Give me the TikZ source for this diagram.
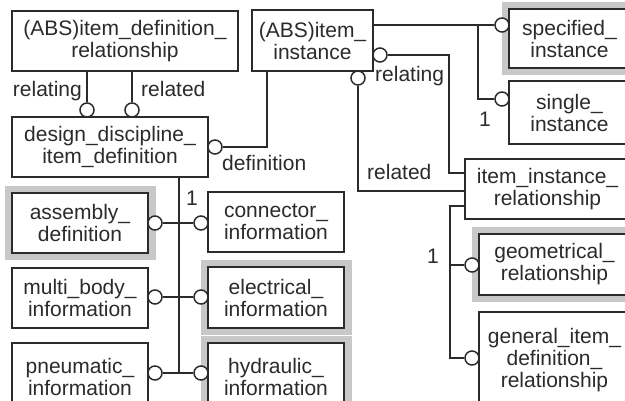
\documentclass[tikz,border=0pt]{standalone}
\usepackage{fontspec}
\setmainfont{Liberation Sans}
\usetikzlibrary{backgrounds}
\definecolor{ink}{HTML}{2B2B2B}
\definecolor{halo}{HTML}{C8C8C8}
\tikzset{
 ent/.style={draw=ink, line width=1.5pt, fill=white, inner sep=0pt, align=center, text=ink, font=\fontsize{21}{22}\selectfont},
 conn/.style={draw=ink, line width=2.2pt},
 trunk/.style={draw=ink, line width=2.8pt},
 ring/.style={circle, draw=ink, line width=1.5pt, fill=white, minimum size=14pt, inner sep=0pt},
 lbl/.style={text=ink, font=\fontsize{21}{22}\selectfont, inner sep=0pt},
 halobox/.style={fill=halo}
}
\begin{document}
\begin{tikzpicture}[x=1pt,y=-1pt]
\useasboundingbox (0,0) rectangle (625,401);
\clip (0,0) rectangle (625,401);
% entities
\node[ent, minimum width=226pt, minimum height=60pt] (A) at (125,41) {(ABS)item\_definition\_\\relationship};
\node[ent, minimum width=196pt, minimum height=60pt] (B) at (110,147) {design\_discipline\_\\item\_definition};
\node[ent, minimum width=121pt, minimum height=61pt] (C) at (312.5,40.5) {(ABS)item\_\\instance};
\node[ent, minimum width=121pt, minimum height=59pt] (D) at (569.5,38.5) {specified\_\\instance};
\node[ent, minimum width=121pt, minimum height=63pt] (S) at (569.5,112.5) {single\_\\instance};
\node[ent, minimum width=165pt, minimum height=60pt] (E) at (547.5,189) {item\_instance\_\\relationship};
\node[ent, minimum width=151pt, minimum height=61pt] (F) at (554.5,264.5) {geometrical\_\\relationship};
\node[ent, minimum width=151pt, minimum height=96pt] (G) at (554.5,360) {general\_item\_\\definition\_\\relationship};
\node[ent, minimum width=136pt, minimum height=60pt] (asm) at (80,223) {assembly\_\\definition};
\node[ent, minimum width=136pt, minimum height=60pt] (mb) at (80,298) {multi\_body\_\\information};
\node[ent, minimum width=136pt, minimum height=68pt] (pn) at (80,377) {pneumatic\_\\information};
\node[ent, minimum width=136pt, minimum height=60pt] (con) at (276,222) {connector\_\\information};
\node[ent, minimum width=136pt, minimum height=61pt] (el) at (276,297.5) {electrical\_\\information};
\node[ent, minimum width=136pt, minimum height=68pt] (hy) at (276,377) {hydraulic\_\\information};
% halos
\begin{scope}[on background layer]
\fill[white] (0,0) rectangle (625,401);
\foreach \n in {D,F,asm,el,hy}{
  \fill[halobox] ([xshift=-6pt,yshift=6pt]\n.north west) rectangle ([xshift=7pt,yshift=-6pt]\n.south east);
}
\end{scope}
% rings
\node[ring] (r1) at (87,110) {};
\node[ring] (r2) at (132,110) {};
\node[ring] (rB) at (215,147) {};
\node[ring] (rCr) at (380,55) {};
\node[ring] (rCb) at (358,78) {};
\node[ring] (rD) at (502,25) {};
\node[ring] (rS) at (502,99) {};
\node[ring] (ra) at (155,223) {};
\node[ring] (rm) at (155,297) {};
\node[ring] (rp) at (155,373) {};
\node[ring] (rc) at (201,223) {};
\node[ring] (re) at (201,297) {};
\node[ring] (rh) at (201,373) {};
\node[ring] (rF) at (472,265) {};
\node[ring] (rG) at (472,358) {};
% helper coordinates
\coordinate (k1) at (267,147);
\coordinate (k2) at (449,173);
\coordinate (k3) at (358,191);
\coordinate (k4) at (478,25);
\coordinate (t1) at (179,373);
\coordinate (e1) at (450,206);
\coordinate (e2) at (450,358);
% connectors
\draw[conn] (A.south -| r1) -- (r1);
\draw[conn] (A.south -| r2) -- (r2);
\draw[conn] (rB) -- (k1) -- (k1 |- C.south);
\draw[conn] (rCr) -| (k2) -- (k2 -| E.west);
\draw[conn] (rCb) -- (k3) -- (k3 -| E.west);
\draw[conn] (C.east |- k4) -- (rD);
\draw[conn] (k4) |- (rS);
\draw[trunk] (B.south -| t1) -- (t1);
\draw[conn] (ra) -- (rc);
\draw[conn] (rm) -- (re);
\draw[conn] (rp) -- (rh);
\draw[trunk] (E.west |- e1) -- (e1) -- (e2) -- (rG);
\draw[trunk] (e1 |- rF) -- (rF);
% labels
\node[lbl, anchor=base east] (l1) at (82,97) {relating};
\node[lbl, anchor=base west] (l2) at (141,97) {related};
\node[lbl, anchor=base west] (l3) at (222,171) {definition};
\node[lbl, anchor=base west] (l4) at (375,82) {relating};
\node[lbl, anchor=base west] (l5) at (367,180) {related};
\node[lbl] (n1) at (192,198) {1};
\node[lbl] (n2) at (485,119) {1};
\node[lbl] (n3) at (433,256) {1};
\end{tikzpicture}
\end{document}
